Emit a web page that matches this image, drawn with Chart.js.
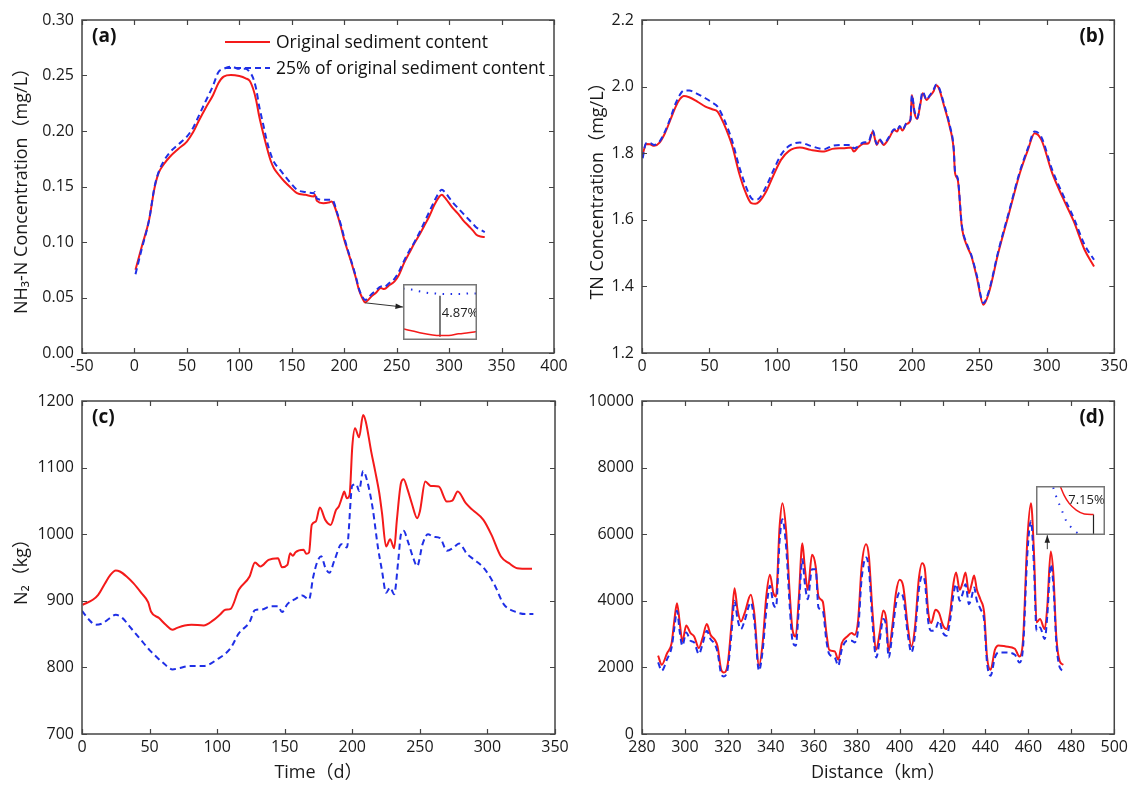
<!DOCTYPE html>
<html>
<head>
<meta charset="utf-8">
<script src="https://cdn.jsdelivr.net/npm/chart.js@4.4.1/dist/chart.umd.min.js"></script>
<style>
body { margin: 0; background: #fff; width: 1132px; height: 785px; position: relative; overflow: hidden; }
canvas { position: absolute; }
</style>
</head>
<body>
<canvas id="ca" width="590" height="392" style="left:0;top:0"></canvas>
<canvas id="cb" width="566" height="392" style="left:566px;top:0"></canvas>
<canvas id="cc" width="590" height="405" style="left:0;top:380px"></canvas>
<canvas id="cd" width="566" height="405" style="left:566px;top:380px"></canvas>
<canvas id="ia"></canvas>
<canvas id="id"></canvas>
<script>
// ---- (a) NH3-N ----
const dayA = [1, 7, 14, 19, 23, 28, 34, 42, 50, 56, 61, 68, 75, 80, 85, 92, 100, 106, 110, 113, 116, 119, 123, 126, 130, 133, 138, 143, 149, 155, 163, 171, 172, 174, 180, 185, 188, 190, 193, 197, 200, 204, 207, 211, 214, 217, 220, 223, 226, 230, 235, 238, 243, 248, 252, 257, 262, 267, 272, 276, 281, 286, 290, 293, 296, 300, 304, 308, 313, 319, 323, 326, 330, 334];
const nh3Orig = [0.075, 0.096, 0.120, 0.148, 0.162, 0.170, 0.177, 0.184, 0.1905, 0.199, 0.2085, 0.221, 0.2325, 0.243, 0.249, 0.2505, 0.2495, 0.2475, 0.245, 0.2385, 0.228, 0.213, 0.197, 0.186, 0.173, 0.1665, 0.160, 0.1545, 0.149, 0.144, 0.1425, 0.141, 0.1425, 0.137, 0.135, 0.1355, 0.1365, 0.134, 0.126, 0.113, 0.102, 0.090, 0.081, 0.068, 0.057, 0.050, 0.0456, 0.048, 0.051, 0.054, 0.0585, 0.0576, 0.061, 0.0645, 0.070, 0.081, 0.090, 0.099, 0.107, 0.114, 0.123, 0.1335, 0.140, 0.1425, 0.140, 0.135, 0.130, 0.126, 0.120, 0.114, 0.110, 0.1065, 0.105, 0.1044];
const nh3Low = [0.071, 0.094, 0.120, 0.149, 0.163, 0.173, 0.181, 0.188, 0.195, 0.203, 0.213, 0.227, 0.241, 0.253, 0.256, 0.258, 0.256, 0.256, 0.253, 0.248, 0.238, 0.222, 0.205, 0.192, 0.179, 0.172, 0.166, 0.160, 0.153, 0.147, 0.145, 0.144, 0.145, 0.139, 0.138, 0.138, 0.138, 0.136, 0.127, 0.115, 0.104, 0.091, 0.082, 0.069, 0.058, 0.051, 0.0478, 0.050, 0.053, 0.056, 0.060, 0.0595, 0.063, 0.067, 0.073, 0.083, 0.092, 0.100, 0.109, 0.117, 0.127, 0.137, 0.144, 0.147, 0.145, 0.140, 0.135, 0.131, 0.126, 0.120, 0.116, 0.113, 0.111, 0.109];
const ticksAX = [-50, 0, 50, 100, 150, 200, 250, 300, 350, 400];
const ticksAY = [0, 0.05, 0.10, 0.15, 0.20, 0.25, 0.30];

// inset (a): zoom on the minimum near day 220
const insetADayRed = [212, 214.1, 216.2, 218.4, 220, 221.9, 224, 226.1, 228];
const insetARed = [0.0460, 0.04588, 0.04576, 0.04567, 0.04564, 0.04564, 0.04573, 0.04579, 0.04585];
const insetADayBlue = [212, 213.8, 215.5, 217.5, 219.2, 221, 222.7, 224.5, 226.2, 228];
const insetABlue = [0.04815, 0.0481, 0.04801, 0.04792, 0.04789, 0.04786, 0.04786, 0.04786, 0.04789, 0.04789];

// ---- (b) TN ----
const dayB = [0.5, 3, 6, 9, 13, 17, 21, 25, 28, 31, 35, 41, 47, 52, 56, 61, 64, 67, 72, 77, 81, 84, 87, 92, 97, 103, 109, 117, 125, 135, 141, 149, 155, 157, 160, 164, 168, 171, 174, 176, 179, 183, 187, 189, 191, 193, 196, 199, 200, 202, 204, 206, 208, 211, 213, 216, 218, 220, 224, 228, 231, 232, 234, 237, 241, 244, 248, 253, 257, 264, 272, 280, 286, 291, 296, 304, 312, 320, 328, 335];
const tnOrig = [1.795, 1.828, 1.827, 1.822, 1.832, 1.86, 1.90, 1.94, 1.962, 1.972, 1.968, 1.955, 1.94, 1.932, 1.925, 1.885, 1.855, 1.82, 1.74, 1.68, 1.65, 1.648, 1.655, 1.685, 1.73, 1.78, 1.807, 1.817, 1.81, 1.805, 1.813, 1.815, 1.817, 1.805, 1.817, 1.828, 1.83, 1.865, 1.825, 1.84, 1.825, 1.845, 1.87, 1.865, 1.88, 1.868, 1.888, 1.90, 1.975, 1.92, 1.903, 1.94, 1.98, 1.96, 1.97, 1.985, 2.004, 1.995, 1.94, 1.88, 1.81, 1.74, 1.72, 1.58, 1.52, 1.492, 1.43, 1.345, 1.38, 1.50, 1.62, 1.74, 1.81, 1.86, 1.84, 1.74, 1.665, 1.595, 1.51, 1.46];
const tnLow = [1.785, 1.83, 1.83, 1.825, 1.835, 1.865, 1.905, 1.95, 1.975, 1.988, 1.988, 1.978, 1.965, 1.952, 1.94, 1.90, 1.87, 1.835, 1.76, 1.70, 1.665, 1.66, 1.665, 1.70, 1.745, 1.795, 1.822, 1.832, 1.822, 1.812, 1.822, 1.825, 1.825, 1.815, 1.82, 1.832, 1.835, 1.868, 1.828, 1.842, 1.828, 1.848, 1.872, 1.867, 1.882, 1.87, 1.89, 1.902, 1.975, 1.925, 1.905, 1.945, 1.985, 1.96, 1.972, 1.99, 2.006, 1.998, 1.945, 1.885, 1.815, 1.745, 1.725, 1.585, 1.525, 1.495, 1.435, 1.35, 1.385, 1.505, 1.625, 1.745, 1.815, 1.865, 1.848, 1.75, 1.675, 1.605, 1.525, 1.48];
const ticksBX = [0, 50, 100, 150, 200, 250, 300, 350];
const ticksBY = [1.2, 1.4, 1.6, 1.8, 2.0, 2.2];

// ---- (c) N2 vs time ----
const dayCOrig = [0.5, 8, 12, 17, 21, 25, 28, 33, 38, 44, 49, 51, 57, 62, 67, 70, 76, 81, 90, 97, 102, 106, 110, 116, 124, 128, 132, 138, 145, 148, 152, 154, 156, 158, 164, 166, 168, 170, 173, 176, 180, 184, 188, 190, 193, 194, 196, 198, 200, 202, 205, 208, 210, 214, 217, 220, 222, 225, 228, 231, 233, 236, 238, 241, 244, 248, 250, 254, 258, 264, 270, 274, 278, 284, 289, 297, 303, 310, 316, 322, 333];
const n2Orig = [894, 901.5, 909, 926, 939, 945.5, 944, 936.5, 926.5, 911.5, 897.5, 884, 874, 864, 856.5, 859, 863, 864, 863, 870.5, 879, 886.5, 888, 916.5, 936.5, 957.5, 951.5, 961.5, 964, 950.5, 954, 971.5, 967.5, 973, 976.5, 970.5, 972.5, 1014, 1019, 1040, 1021.5, 1014, 1036.5, 1041.5, 1059, 1064, 1054, 1059, 1131.5, 1159, 1145.5, 1179, 1169, 1124, 1094, 1061.5, 1031.5, 981.5, 992.5, 979, 1021.5, 1076.5, 1082.5, 1066.5, 1046.5, 1024, 1034, 1079, 1072.5, 1071.5, 1049, 1050.5, 1064, 1046.5, 1036.5, 1021.5, 999, 966.5, 956.5, 949, 948];
const dayCLow = [0, 5, 10, 15, 20, 25, 30, 35, 40, 45, 50, 55, 60, 67, 72, 80, 90, 100, 110, 116, 124, 128, 133, 140, 145, 148, 152, 158, 163, 168, 171, 174, 177, 180, 183, 187, 192, 196, 200, 203, 205, 208, 211, 215, 219, 222, 225, 228, 231, 234, 236, 238, 241, 245, 248, 252, 256, 260, 265, 270, 275, 279, 285, 290, 297, 305, 312, 320, 328, 334];
const n2Low = [885, 872, 864, 866, 873, 879, 874, 862, 850, 838, 826, 816, 807, 797, 799, 802, 802, 812, 829, 851, 868, 886, 887, 892, 892, 883, 895, 903, 908, 902, 935, 958, 967, 950, 942, 962, 985, 980, 1073, 1075, 1065, 1095, 1080, 1040, 980, 945, 912, 920, 910, 960, 1000, 1005, 990, 965, 952, 985, 1000, 996, 994, 975, 980, 986, 970, 962, 950, 925, 895, 884, 880, 880];
const ticksCX = [0, 50, 100, 150, 200, 250, 300, 350];
const ticksCY = [700, 800, 900, 1000, 1100, 1200];

// ---- (d) N2 vs distance ----
const distD = [287.5, 289.2, 291.7, 293.8, 295.1, 296.3, 297.6, 298.8, 300.6, 302.6, 304.3, 306.5, 308.2, 310.2, 311.9, 313.9, 315.2, 316.9, 318.1, 319.9, 321.6, 323.1, 324.5, 326.1, 327.8, 330.7, 332.3, 334.5, 336.2, 337.9, 339.6, 341.2, 342.4, 344.1, 345.4, 347.1, 348.8, 350.1, 351.6, 353.0, 354.7, 355.8, 357.2, 359.2, 360.9, 362.2, 364.2, 365.9, 367.2, 369.8, 371.4, 373.1, 375.6, 377.7, 379.0, 380.7, 382.3, 384.4, 385.7, 387.4, 389.1, 390.7, 392.4, 393.8, 394.9, 396.6, 398.3, 400.0, 401.7, 403.8, 405.5, 407.2, 408.9, 410.5, 411.7, 413.4, 414.7, 416.7, 418.4, 420.1, 421.8, 423.5, 425.1, 426.3, 428.0, 429.3, 430.7, 432.3, 433.5, 434.7, 436.0, 437.7, 439.4, 440.7, 442.4, 444.4, 446.1, 449.5, 453.7, 455.8, 457.5, 459.5, 461.2, 462.6, 463.8, 465.4, 467.6, 468.8, 470.4, 471.6, 473.0, 474.6, 476.3];
const n2DOrig = [2350, 2080, 2430, 2730, 3430, 3930, 3330, 2780, 3260, 3030, 2930, 2580, 2880, 3300, 2980, 2830, 2630, 1930, 1850, 2080, 3230, 4380, 3730, 3380, 3630, 4180, 3630, 2050, 2730, 4130, 4780, 4230, 4130, 6230, 6930, 6130, 4230, 3130, 2930, 4030, 5730, 5030, 4330, 5380, 5030, 4130, 3980, 3030, 2530, 2480, 2230, 2730, 2930, 3030, 2980, 3430, 5030, 5700, 5330, 3630, 2530, 3030, 3710, 3430, 2480, 3230, 4230, 4630, 4430, 3230, 2630, 3230, 4630, 5130, 4980, 3630, 3330, 3730, 3630, 3280, 3150, 3630, 4530, 4850, 4330, 4530, 4850, 4230, 4480, 4760, 4330, 4030, 3630, 2330, 1930, 2530, 2660, 2630, 2560, 2330, 2830, 5830, 6930, 5430, 3350, 3450, 3150, 3830, 5480, 4830, 2930, 2180, 2080];
const n2DLow = [2150, 1900, 2250, 2600, 3200, 3700, 3050, 2650, 3050, 2800, 2750, 2400, 2700, 3100, 2850, 2700, 2450, 1800, 1730, 1950, 2950, 4000, 3450, 3150, 3400, 3950, 3400, 1900, 2500, 3700, 4450, 3900, 3800, 5800, 6450, 5650, 3850, 2800, 2650, 3700, 5250, 4550, 4050, 4950, 4950, 3800, 3700, 2800, 2400, 2300, 2050, 2550, 2800, 2800, 2750, 3150, 4650, 5300, 4950, 3300, 2300, 2800, 3450, 3200, 2300, 3000, 3900, 4250, 4100, 3000, 2450, 3000, 4300, 4750, 4600, 3350, 3100, 3150, 3400, 3050, 2950, 3400, 4200, 4500, 4000, 4200, 4500, 3900, 4100, 4400, 4000, 3750, 3400, 2150, 1750, 2300, 2450, 2450, 2380, 2150, 2600, 5400, 6400, 5000, 3100, 3200, 2850, 3550, 5090, 4500, 2750, 2000, 1900];
const ticksDX = [280, 300, 320, 340, 360, 380, 400, 420, 440, 460, 480, 500];
const ticksDY = [0, 2000, 4000, 6000, 8000, 10000];

// inset (d): zoom near the peak at 470 km
const insetDDistRed = [469.82, 469.89, 469.98, 470.10, 470.24, 470.40];
const insetDRed = [6010, 5835, 5679, 5559, 5486, 5476];
const insetDDistBlue = [469.70, 469.75, 469.80, 469.86, 469.92, 470.0, 470.11, 470.24];
const insetDBlue = [5982, 5817, 5679, 5522, 5366, 5246, 5136, 5090];

const legendLabels = ['Original sediment content', '25% of original sediment content'];

const RED = '#f41a1a';
const BLUE = '#1f2fe6';
const FONT = "'Open Sans', 'Noto Sans CJK SC', sans-serif";
Chart.defaults.font.family = FONT;
Chart.defaults.color = '#1a1a1a';

function pts(xs, ys) {
    return xs.map((x, i) => ({ x: x, y: ys[i] }));
}

function seriesPair(xr, yr, xb, yb) {
    return [
        { data: pts(xr, yr), borderColor: RED, borderWidth: 2, order: 2 },
        { data: pts(xb, yb), borderColor: BLUE, borderWidth: 2, borderDash: [6, 4], order: 1 }
    ];
}

const framePlugin = {
    id: 'frame',
    afterDatasetsDraw(chart) {
        const { ctx, chartArea: a, scales: { x, y } } = chart;
        ctx.save();
        ctx.strokeStyle = '#444';
        ctx.lineWidth = 1.5;
        ctx.strokeRect(a.left, a.top, a.right - a.left, a.bottom - a.top);
        ctx.lineWidth = 1.2;
        ctx.beginPath();
        x.ticks.forEach(t => {
            const px = Math.round(x.getPixelForValue(t.value)) + 0.5;
            ctx.moveTo(px, a.bottom); ctx.lineTo(px, a.bottom - 5);
            ctx.moveTo(px, a.top); ctx.lineTo(px, a.top + 5);
        });
        y.ticks.forEach(t => {
            const py = Math.round(y.getPixelForValue(t.value)) + 0.5;
            ctx.moveTo(a.left, py); ctx.lineTo(a.left + 5, py);
            ctx.moveTo(a.right, py); ctx.lineTo(a.right - 5, py);
        });
        ctx.stroke();
        ctx.restore();
    }
};

function panelLabel(text, side) {
    return {
        id: 'panelLabel',
        afterDraw(chart) {
            const { ctx, chartArea: a } = chart;
            ctx.save();
            ctx.font = 'bold 19px ' + FONT;
            ctx.fillStyle = '#111';
            ctx.textBaseline = 'middle';
            ctx.textAlign = side;
            ctx.fillText(text, side === 'left' ? a.left + 10 : a.right - 10, a.top + 17);
            ctx.restore();
        }
    };
}

const legendPlugin = {
    id: 'legendA',
    afterDraw(chart) {
        const { ctx, chartArea: a } = chart;
        ctx.save();
        ctx.font = '17.5px ' + FONT;
        ctx.fillStyle = '#111';
        ctx.textBaseline = 'middle';
        [RED, BLUE].forEach((c, i) => {
            const y = a.top + 22 + i * 26;
            ctx.strokeStyle = c;
            ctx.lineWidth = 2;
            ctx.setLineDash(i ? [6, 4] : []);
            ctx.beginPath();
            ctx.moveTo(a.left + 143, y); ctx.lineTo(a.left + 188, y);
            ctx.stroke();
            ctx.fillText(legendLabels[i], a.left + 194, y + 1);
        });
        ctx.restore();
    }
};

function arrowPlugin(from, to) {
    return {
        id: 'arrow',
        afterDraw(chart) {
            const { ctx, scales: { x, y } } = chart;
            const x0 = x.getPixelForValue(from[0]), y0 = y.getPixelForValue(from[1]);
            const x1 = x.getPixelForValue(to[0]), y1 = y.getPixelForValue(to[1]);
            const ang = Math.atan2(y1 - y0, x1 - x0);
            ctx.save();
            ctx.strokeStyle = '#333';
            ctx.fillStyle = '#222';
            ctx.lineWidth = 1;
            ctx.beginPath();
            ctx.moveTo(x0, y0); ctx.lineTo(x1, y1);
            ctx.stroke();
            ctx.beginPath();
            ctx.moveTo(x1, y1);
            ctx.lineTo(x1 - 8 * Math.cos(ang - 0.35), y1 - 8 * Math.sin(ang - 0.35));
            ctx.lineTo(x1 - 8 * Math.cos(ang + 0.35), y1 - 8 * Math.sin(ang + 0.35));
            ctx.closePath();
            ctx.fill();
            ctx.restore();
        }
    };
}

function panelOptions(cfg) {
    return {
        responsive: false,
        animation: false,
        layout: { padding: { top: cfg.top, right: cfg.right, left: 0, bottom: 0 } },
        plugins: { legend: { display: false }, tooltip: { enabled: false } },
        elements: { point: { radius: 0 }, line: { cubicInterpolationMode: 'monotone' } },
        scales: {
            x: {
                type: 'linear', min: cfg.xt[0], max: cfg.xt[cfg.xt.length - 1],
                grid: { display: false, drawTicks: false }, border: { display: false },
                afterBuildTicks: s => { s.ticks = cfg.xt.map(v => ({ value: v })); },
                afterFit: s => { s.height = cfg.xh; },
                ticks: { padding: 4, autoSkip: false, maxRotation: 0, color: '#1a1a1a', font: { size: 16 }, callback: v => String(v) },
                title: { display: !!cfg.xTitle, text: cfg.xTitle, color: '#1a1a1a', font: { size: 18 }, padding: { top: 0, bottom: 1 } }
            },
            y: {
                type: 'linear', min: cfg.yt[0], max: cfg.yt[cfg.yt.length - 1],
                grid: { display: false, drawTicks: false }, border: { display: false },
                afterBuildTicks: s => { s.ticks = cfg.yt.map(v => ({ value: v })); },
                afterFit: s => { s.width = cfg.yw; },
                ticks: { padding: 8, autoSkip: false, color: '#1a1a1a', font: { size: 16 }, callback: v => v.toFixed(cfg.yDec) },
                title: { display: !!cfg.yTitle, text: cfg.yTitle, color: '#1a1a1a', font: { size: 18 }, padding: { top: cfg.yTitlePad, bottom: 0 } }
            }
        }
    };
}

const chartA = new Chart(document.getElementById('ca'), {
    type: 'line',
    data: { datasets: seriesPair(dayA, nh3Orig, dayA, nh3Low) },
    options: panelOptions({ top: 20, right: 36, xh: 39, yw: 82, xt: ticksAX, yt: ticksAY, yDec: 2,
        yTitle: 'NH\u2083-N Concentration\uFF08mg/L\uFF09', yTitlePad: 11 }),
    plugins: [framePlugin, panelLabel('(a)', 'left'), legendPlugin, arrowPlugin([220, 0.0452], [256, 0.0414])]
});

const chartB = new Chart(document.getElementById('cb'), {
    type: 'line',
    data: { datasets: seriesPair(dayB, tnOrig, dayB, tnLow) },
    options: panelOptions({ top: 20, right: 17, xh: 39, yw: 76, xt: ticksBX, yt: ticksBY, yDec: 1,
        yTitle: 'TN Concentration\uFF08mg/L\uFF09', yTitlePad: 21 }),
    plugins: [framePlugin, panelLabel('(b)', 'right')]
});

const chartC = new Chart(document.getElementById('cc'), {
    type: 'line',
    data: { datasets: seriesPair(dayCOrig, n2Orig, dayCLow, n2Low) },
    options: panelOptions({ top: 21, right: 35, xh: 51, yw: 82, xt: ticksCX, yt: ticksCY, yDec: 0,
        xTitle: 'Time\uFF08d\uFF09', yTitle: 'N\u2082\uFF08kg\uFF09', yTitlePad: 11 }),
    plugins: [framePlugin, panelLabel('(c)', 'left')]
});

const chartD = new Chart(document.getElementById('cd'), {
    type: 'line',
    data: { datasets: seriesPair(distD, n2DOrig, distD, n2DLow) },
    options: panelOptions({ top: 21, right: 17, xh: 51, yw: 76, xt: ticksDX, yt: ticksDY, yDec: 0,
        xTitle: 'Distance\uFF08km\uFF09' }),
    plugins: [framePlugin, panelLabel('(d)', 'right'), arrowPlugin([468.8, 5550], [468.8, 5970])]
});

// inset boxes, given in the data units of their parent panel
const insetABox = { x0: 256, x1: 327, y0: 0.0114, y1: 0.0621 };
const insetDBox = { x0: 463.7, x1: 495.6, y0: 5970, y1: 7450 };

function placeInset(chart, offX, offY, box, id) {
    const x = chart.scales.x, y = chart.scales.y;
    const l = Math.round(x.getPixelForValue(box.x0)), r = Math.round(x.getPixelForValue(box.x1));
    const t = Math.round(y.getPixelForValue(box.y1)), b = Math.round(y.getPixelForValue(box.y0));
    const c = document.getElementById(id);
    c.width = r - l;
    c.height = b - t;
    c.style.left = (offX + l) + 'px';
    c.style.top = (offY + t) + 'px';
    return c;
}

function insetChart(canvas, xr, yr, datasets, note) {
    return new Chart(canvas, {
        type: 'line',
        data: { datasets: datasets },
        options: {
            responsive: false, animation: false,
            layout: { padding: 0 },
            plugins: { legend: { display: false }, tooltip: { enabled: false } },
            elements: { point: { radius: 0 } },
            scales: {
                x: { type: 'linear', display: false, min: xr[0], max: xr[1] },
                y: { type: 'linear', display: false, min: yr[0], max: yr[1] }
            }
        },
        plugins: [{
            id: 'insetBox',
            beforeDraw(chart) {
                const { ctx, width, height } = chart;
                ctx.save();
                ctx.fillStyle = '#fff';
                ctx.fillRect(0, 0, width, height);
                ctx.restore();
            },
            afterDraw(chart) {
                const { ctx, width, height, scales: { x, y } } = chart;
                ctx.save();
                ctx.font = '13px ' + FONT;
                ctx.fillStyle = '#222';
                ctx.textBaseline = 'middle';
                ctx.fillText(note.text, x.getPixelForValue(note.x), y.getPixelForValue(note.y));
                ctx.strokeStyle = '#777';
                ctx.lineWidth = 1.5;
                ctx.strokeRect(0.75, 0.75, width - 1.5, height - 1.5);
                ctx.restore();
            }
        }]
    });
}

insetChart(placeInset(chartA, 0, 0, insetABox, 'ia'), [212, 228], [0.0454, 0.0484], [
    { data: pts(insetADayRed, insetARed), borderColor: RED, borderWidth: 1.5, cubicInterpolationMode: 'monotone' },
    { data: pts(insetADayBlue, insetABlue), borderColor: BLUE, borderWidth: 2, borderDash: [1.5, 6.5], cubicInterpolationMode: 'monotone' },
    { data: pts([220, 220], [0.04558, 0.04777]), borderColor: '#222', borderWidth: 1.2 }
], { text: '4.87%', x: 220.4, y: 0.04684 });

insetChart(placeInset(chartD, 566, 380, insetDBox, 'id'), [469.4, 470.6], [5090, 6010], [
    { data: pts(insetDDistRed, insetDRed), borderColor: RED, borderWidth: 1.5, cubicInterpolationMode: 'monotone' },
    { data: pts(insetDDistBlue, insetDBlue), borderColor: BLUE, borderWidth: 2, borderDash: [1.5, 7], cubicInterpolationMode: 'monotone' },
    { data: pts([470.40, 470.40], [5476, 5090]), borderColor: '#222', borderWidth: 1.2 }
], { text: '7.15%', x: 469.96, y: 5734 });
</script>
</body>
</html>
